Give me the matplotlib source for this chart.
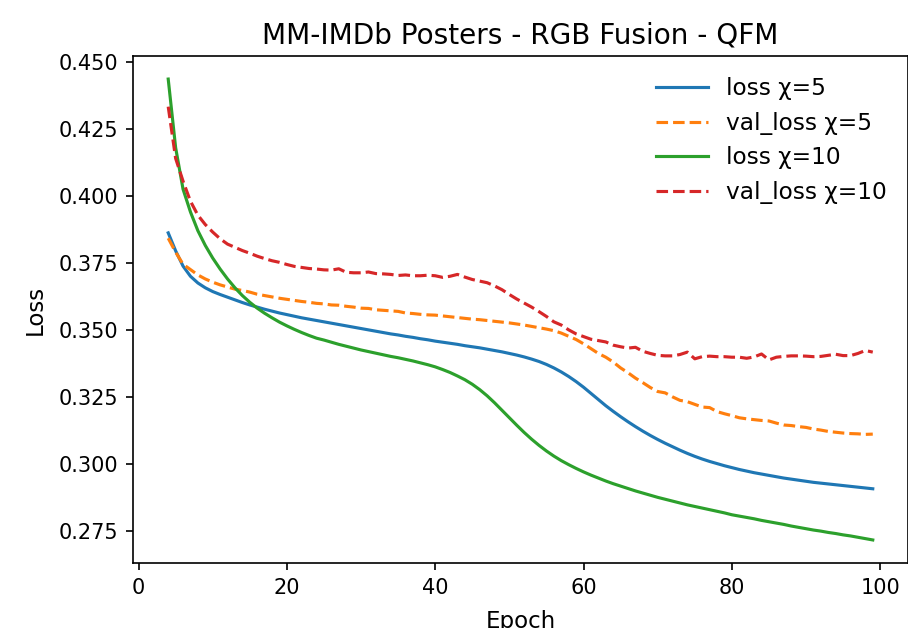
import matplotlib
matplotlib.use("Agg")
import matplotlib.pyplot as plt

# epochs 4..99
epochs = list(range(4, 100))

loss_5 = [
    .3862, .3795, .3738, .3700, .3675, .3657, .3643, .3632, .3622, .3612,
    .3602, .3593, .3585, .3577, .3570, .3563, .3557, .3551, .3545, .3540,
    .3535, .3530, .3525, .3520, .3515, .3510, .3505, .3500, .3495, .3490,
    .3485, .3481, .3476, .3472, .3467, .3463, .3458, .3454, .3450, .3446,
    .3441, .3437, .3433, .3428, .3423, .3418, .3412, .3406, .3399, .3391,
    .3382, .3371, .3358, .3343, .3326, .3307, .3286, .3263, .3240, .3217,
    .3196, .3176, .3157, .3139, .3122, .3106, .3091, .3077, .3064, .3051,
    .3039, .3028, .3018, .3009, .3001, .2993, .2986, .2979, .2973, .2967,
    .2962, .2957, .2952, .2947, .2943, .2939, .2935, .2931, .2928, .2925,
    .2922, .2919, .2916, .2913, .2910, .2907,
]

val_loss_5 = [
    .3842, .3790, .3745, .3725, .3705, .3690, .3678, .3668, .3660, .3652,
    .3647, .3641, .3633, .3628, .3623, .3618, .3614, .3610, .3606, .3603,
    .3599, .3597, .3593, .3592, .3588, .3585, .3581, .3580, .3575, .3573,
    .3571, .3569, .3563, .3561, .3558, .3556, .3555, .3552, .3549, .3546,
    .3543, .3540, .3538, .3535, .3532, .3529, .3526, .3522, .3518, .3513,
    .3508, .3503, .3497, .3488, .3476, .3464, .3448, .3430, .3412, .3398,
    .3380, .3358, .3340, .3320, .3303, .3285, .3270, .3265, .3250, .3237,
    .3232, .3222, .3212, .3210, .3195, .3187, .3180, .3172, .3168, .3165,
    .3162, .3160, .3152, .3145, .3143, .3139, .3136, .3130, .3126, .3121,
    .3118, .3115, .3113, .3112, .3110, .3111,
]

loss_10 = [
    .4436, .4180, .4025, .3940, .3870, .3815, .3768, .3727, .3690, .3657,
    .3628, .3603, .3581, .3562, .3545, .3529, .3515, .3502, .3490, .3479,
    .3469, .3462, .3454, .3446, .3439, .3432, .3425, .3419, .3413, .3407,
    .3401, .3396, .3390, .3384, .3377, .3370, .3362, .3352, .3341, .3328,
    .3314, .3297, .3277, .3254, .3228, .3200, .3172, .3144, .3117, .3092,
    .3069, .3048, .3029, .3012, .2997, .2983, .2970, .2958, .2947, .2936,
    .2926, .2917, .2908, .2899, .2891, .2883, .2875, .2868, .2861, .2854,
    .2847, .2841, .2835, .2829, .2823, .2817, .2810, .2805, .2800, .2795,
    .2789, .2784, .2779, .2774, .2768, .2763, .2758, .2753, .2749, .2744,
    .2740, .2735, .2731, .2726, .2721, .2716,
]

val_loss_10 = [
    .4333, .4140, .4055, .3980, .3928, .3893, .3865, .3840, .3820, .3808,
    .3796, .3786, .3775, .3766, .3758, .3752, .3744, .3737, .3733, .3729,
    .3727, .3724, .3723, .3728, .3715, .3713, .3713, .3716, .3710, .3709,
    .3707, .3703, .3705, .3702, .3702, .3704, .3702, .3696, .3700, .3707,
    .3697, .3688, .3682, .3676, .3664, .3650, .3632, .3615, .3600, .3585,
    .3568, .3550, .3530, .3518, .3500, .3485, .3475, .3465, .3460, .3455,
    .3443, .3437, .3432, .3435, .3420, .3412, .3405, .3403, .3403, .3408,
    .3417, .3392, .3400, .3402, .3400, .3400, .3398, .3398, .3394, .3399,
    .3410, .3388, .3398, .3401, .3403, .3403, .3402, .3400, .3401, .3405,
    .3409, .3404, .3404, .3412, .3423, .3417,
]

fig = plt.figure(figsize=(909 / 150, 628 / 150), dpi=150)
ax = fig.add_axes([0.1463, 0.1035, 0.8526, 0.8073])

ax.plot(epochs, loss_5, color="tab:blue", label="loss χ=5")
ax.plot(epochs, val_loss_5, "--", color="tab:orange", label="val_loss χ=5")
ax.plot(epochs, loss_10, color="tab:green", label="loss χ=10")
ax.plot(epochs, val_loss_10, "--", color="tab:red", label="val_loss χ=10")

ax.set_title("MM-IMDb Posters - RGB Fusion - QFM", fontsize=13.4)
ax.set_xlabel("Epoch", fontsize=11, labelpad=6)
ax.set_ylabel("Loss", fontsize=11, labelpad=6)
ax.legend(loc="upper right", frameon=False, fontsize=11.2, handlelength=2.2)

fig.savefig("out.png", dpi=150)
